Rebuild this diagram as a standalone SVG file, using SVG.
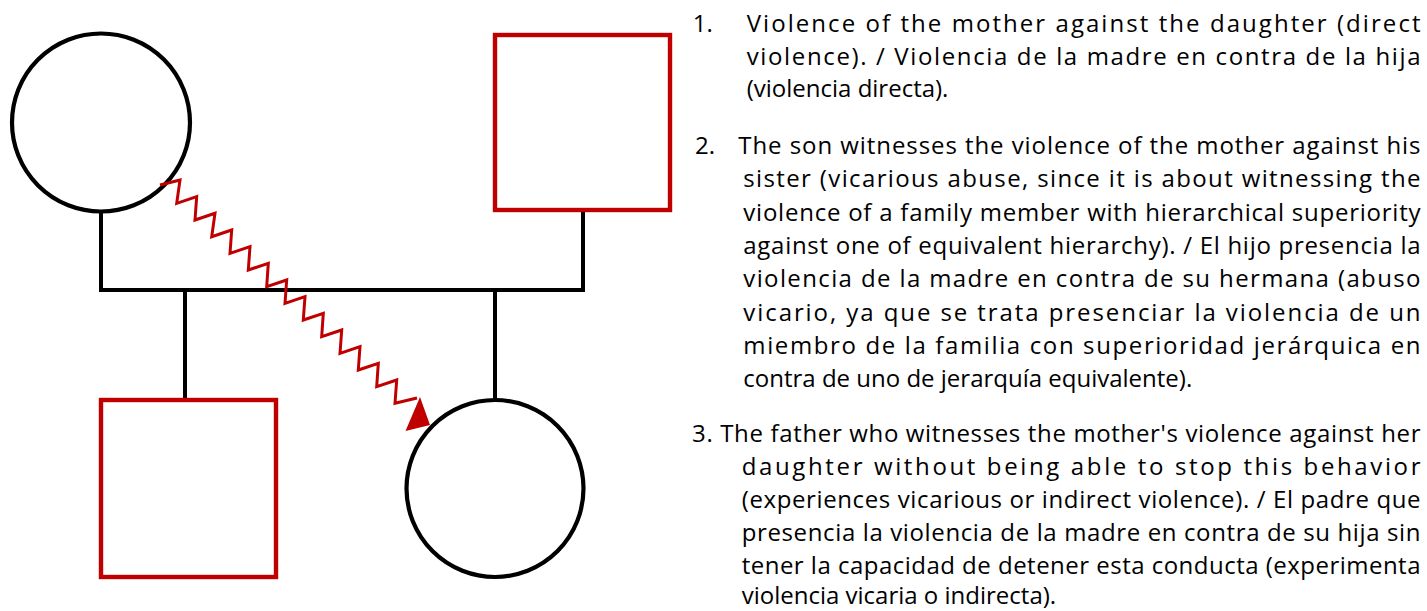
<svg xmlns="http://www.w3.org/2000/svg" width="1427" height="611" viewBox="0 0 1427 611">
<style>
.f{fill:#fff;stroke:#000;stroke-width:4.2}
.m{fill:#fff;stroke:#c00000;stroke-width:4.4}
.ln{fill:none;stroke:#000;stroke-width:4;stroke-linecap:square}
.zz{fill:none;stroke:#c00000;stroke-width:3;stroke-linejoin:miter}
.ah{fill:#c00000}
text{font-family:"Open Sans","Noto Sans","Liberation Sans",sans-serif;font-size:24px;fill:#000}
</style>
<g id="connectors">
<polyline class="ln" points="101,212 101,290 583,290 583,210"/>
<line class="ln" x1="185" y1="290" x2="185" y2="400"/>
<line class="ln" x1="495" y1="290" x2="495" y2="400"/>
</g>
<g id="mother"><circle class="f" cx="101" cy="122.5" r="89"/></g>
<g id="father"><rect class="m" x="495" y="35" width="175" height="175"/></g>
<g id="son"><rect class="m" x="101" y="400" width="175" height="177"/></g>
<g id="daughter"><circle class="f" cx="495" cy="488.5" r="88.5"/></g>
<g id="violence-arrow">
<polyline class="zz" points="160,185 180,180 176.7,203.3 196.7,196.7 195,220 215,213.3 211.7,236.7 231.7,230 230,253.3 250,246.7 248.3,270 268.3,263.3 266.7,286.7 286.7,280 285,303.3 305,296.7 303.3,320 323.3,313.3 321.7,336.7 341.7,330 340,353.3 360,346.7 358.3,370 378.3,363.3 376.7,386.7 396.7,380 395,403.3 417,398"/>
<polygon class="ah" points="420,397 430,425 405.5,431"/>
</g>
<g id="legend">
<text x="692.7" y="32">1.</text>
<text x="746.7" y="32" textLength="673.8" lengthAdjust="spacing">Violence of the mother against the daughter (direct</text>
<text x="746.7" y="64.5" textLength="673.8" lengthAdjust="spacing">violence). / Violencia de la madre en contra de la hija</text>
<text x="746.7" y="97">(violencia directa).</text>
<text x="695" y="154">2.</text>
<text x="738.3" y="154" textLength="682.2" lengthAdjust="spacing">The son witnesses the violence of the mother against his</text>
<text x="743.3" y="187" textLength="677.2" lengthAdjust="spacing">sister (vicarious abuse, since it is about witnessing the</text>
<text x="743.3" y="220.5" textLength="677.2" lengthAdjust="spacing">violence of a family member with hierarchical superiority</text>
<text x="743.3" y="254" textLength="677.2" lengthAdjust="spacing">against one of equivalent hierarchy). / El hijo presencia la</text>
<text x="743.3" y="287.3" textLength="677.2" lengthAdjust="spacing">violencia de la madre en contra de su hermana (abuso</text>
<text x="743.3" y="320.7" textLength="677.2" lengthAdjust="spacing">vicario, ya que se trata presenciar la violencia de un</text>
<text x="743.3" y="354" textLength="677.2" lengthAdjust="spacing">miembro de la familia con superioridad jerárquica en</text>
<text x="743.3" y="387">contra de uno de jerarquía equivalente).</text>
<text x="692" y="441.5" textLength="728.5" lengthAdjust="spacing">3. The father who witnesses the mother's violence against her</text>
<text x="741.7" y="474.5" textLength="678.8" lengthAdjust="spacing">daughter without being able to stop this behavior</text>
<text x="741.7" y="507.5" textLength="678.8" lengthAdjust="spacing">(experiences vicarious or indirect violence). / El padre que</text>
<text x="741.7" y="541" textLength="678.8" lengthAdjust="spacing">presencia la violencia de la madre en contra de su hija sin</text>
<text x="741.7" y="574" textLength="678.8" lengthAdjust="spacing">tener la capacidad de detener esta conducta (experimenta</text>
<text x="741.7" y="604">violencia vicaria o indirecta).</text>
</g>
</svg>
